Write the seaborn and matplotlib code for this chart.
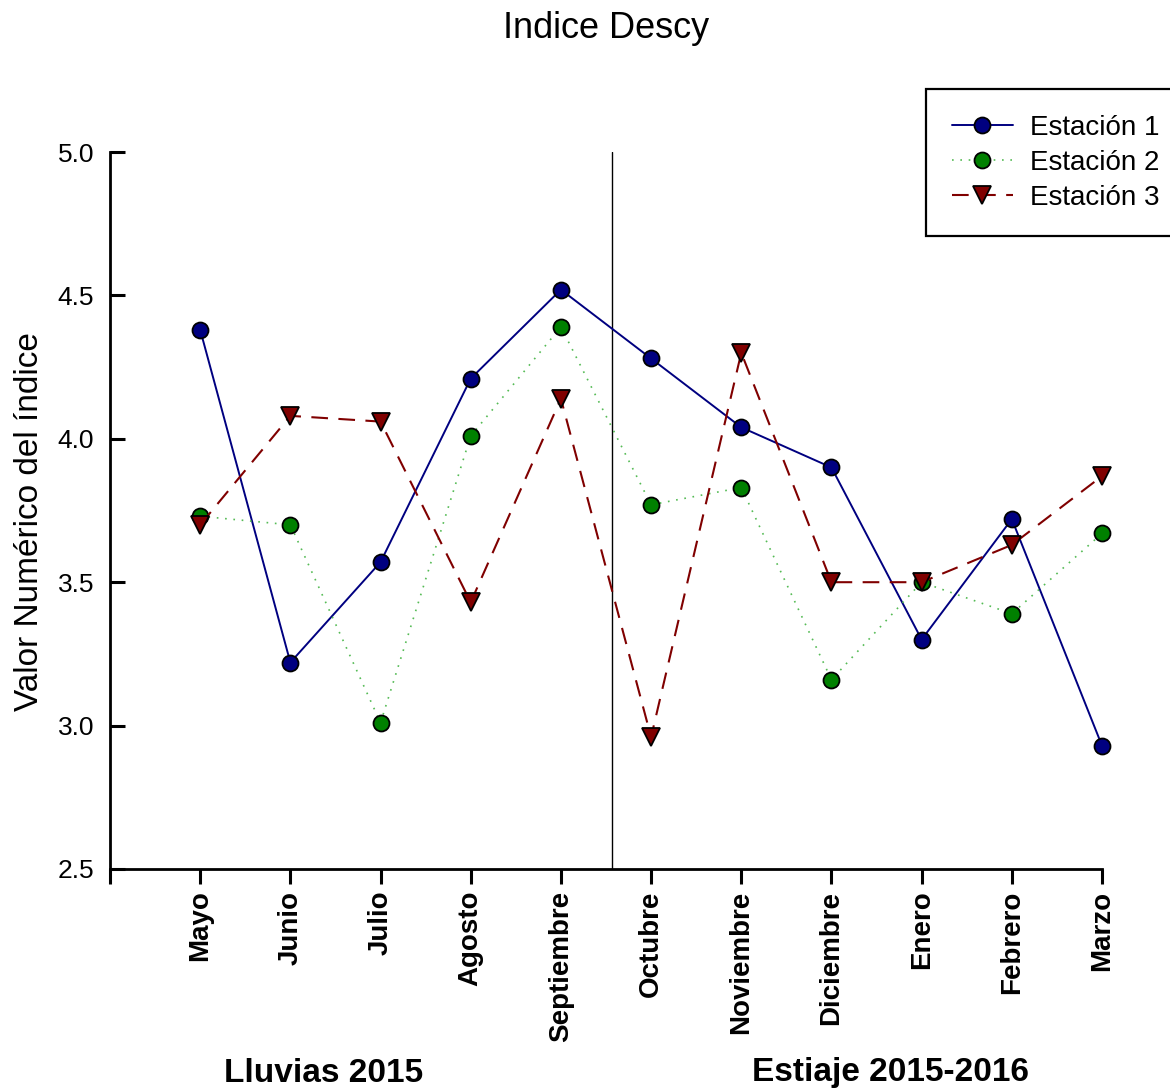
import matplotlib
matplotlib.use("Agg")
import matplotlib.pyplot as plt
import seaborn as sns
import pandas as pd
import numpy as np

# Months of the sampling campaign
meses = ["Mayo", "Junio", "Julio", "Agosto", "Septiembre", "Octubre",
         "Noviembre", "Diciembre", "Enero", "Febrero", "Marzo"]

# Descy index values per station
estacion_1 = [4.38, 3.22, 3.57, 4.21, 4.52, 4.28, 4.04, 3.90, 3.30, 3.72, 2.93]
estacion_2 = [3.73, 3.70, 3.01, 4.01, 4.39, 3.77, 3.83, 3.16, 3.50, 3.39, 3.67]
estacion_3 = [3.70, 4.08, 4.06, 3.43, 4.14, 2.96, 4.30, 3.50, 3.50, 3.63, 3.87]

etiquetas = ["Estación 1", "Estación 2", "Estación 3"]
y_ticks = [2.5, 3.0, 3.5, 4.0, 4.5, 5.0]
temporadas = ["Lluvias 2015", "Estiaje 2015-2016"]

sns.set_style("ticks", {"axes.edgecolor": "black", "text.color": "black",
                        "xtick.color": "black", "ytick.color": "black",
                        "axes.labelcolor": "black"})
plt.rcParams["font.family"] = ["Liberation Sans", "DejaVu Sans"]

posiciones = np.arange(1, len(meses) + 1)
df = pd.DataFrame({
    "pos": np.tile(posiciones, 3),
    "valor": estacion_1 + estacion_2 + estacion_3,
    "estacion": np.repeat(etiquetas, len(meses)),
})

estilos = {
    "Estación 1": dict(color="#000080", linestyle="-", linewidth=1.4,
                       marker="o", markersize=11.5, markerfacecolor="#000080"),
    "Estación 2": dict(color="#55bb55", linestyle=(0, (1, 4)), linewidth=1.2,
                       marker="o", markersize=11.5, markerfacecolor="#008000"),
    "Estación 3": dict(color="#800000", linestyle=(0, (8, 5)), linewidth=1.5,
                       marker="v", markersize=12.5, markerfacecolor="#800000"),
}

fig = plt.figure(figsize=(11.7, 10.9), dpi=100)
ax = fig.add_axes([110 / 1170, 1 - 869 / 1090, 992 / 1170, 717 / 1090])

for nombre in etiquetas:
    sub = df[df["estacion"] == nombre]
    sns.lineplot(data=sub, x="pos", y="valor", ax=ax, label=nombre,
                 markeredgecolor="black", markeredgewidth=1.3,
                 clip_on=False, zorder=3, **estilos[nombre])

# Divider between the rainy and dry seasons
ax.axvline(5.57, color="black", linewidth=1.0, zorder=1)

ax.set_xlim(0, 11)
ax.set_ylim(2.5, 5.0)
ax.set_xticks(np.arange(0, len(meses) + 1))
ax.set_xticklabels([""] + meses, rotation=90, fontsize=20, fontweight="bold")
ax.set_yticks(y_ticks)
ax.set_yticklabels([f"{v:.1f}" for v in y_ticks], fontsize=19)
ax.tick_params(axis="y", direction="in", length=11, width=2.2, pad=11.5)
ax.tick_params(axis="x", direction="out", length=11, width=2.2, pad=4.5)
ax.set_xlabel("")
ax.set_ylabel("Valor Numérico del índice", fontsize=24)
ax.yaxis.set_label_coords(-0.066, 0.485)

for lado in ["top", "right"]:
    ax.spines[lado].set_visible(False)
for lado in ["left", "bottom"]:
    ax.spines[lado].set_linewidth(2)

fig.text(606 / 1170, 1 - 29 / 1090, "Indice Descy", fontsize=26,
         ha="center", va="center")

fig.text(324 / 1170, 1 - 1073 / 1090, temporadas[0], fontsize=24,
         fontweight="bold", ha="center", va="center")
fig.text(890 / 1170, 1 - 1073 / 1090, temporadas[1], fontsize=24,
         fontweight="bold", ha="center", va="center")

ax.get_legend().remove()
handles, labels = ax.get_legend_handles_labels()
leg = fig.legend(handles, labels, loc="upper left",
                 bbox_to_anchor=(926 / 1170, 1 - 89 / 1090),
                 fontsize=20, frameon=True, fancybox=False,
                 borderaxespad=0, borderpad=0.93, labelspacing=0.32,
                 handlelength=2.2, handletextpad=0.6)
leg.get_frame().set_edgecolor("black")
leg.get_frame().set_linewidth(1.6)
leg.get_frame().set_alpha(1)

fig.savefig("out.png", dpi=100)
